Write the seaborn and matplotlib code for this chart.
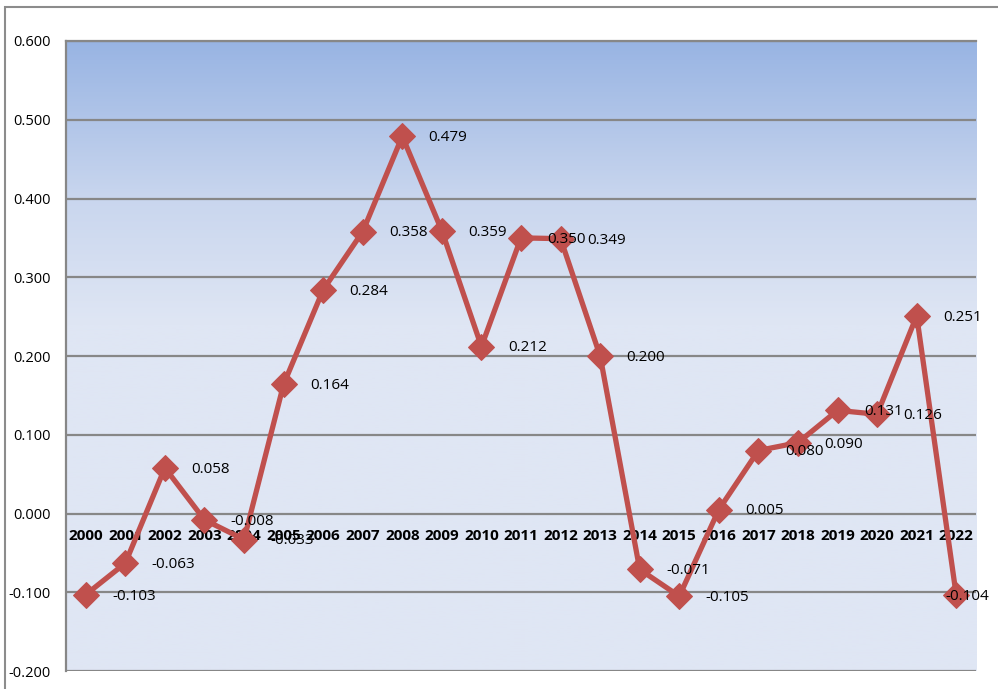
import numpy as np
import pandas as pd
import matplotlib
matplotlib.use("Agg")
import matplotlib.pyplot as plt
import seaborn as sns
from matplotlib.colors import LinearSegmentedColormap

# data
years = [str(y) for y in range(2000, 2023)]
values = [-0.103, -0.063, 0.058, -0.008, -0.033, 0.164, 0.284, 0.358, 0.479, 0.359,
          0.212, 0.350, 0.349, 0.200, -0.071, -0.105, 0.005, 0.080, 0.090, 0.131,
          0.126, 0.251, -0.104]
y_ticks = [-0.2, -0.1, 0.0, 0.1, 0.2, 0.3, 0.4, 0.5, 0.6]

df = pd.DataFrame({"year": years, "value": values})
df["pos"] = range(len(df))

sns.set_style("white")
plt.rcParams["font.family"] = ["Open Sans", "DejaVu Sans"]

fig = plt.figure(figsize=(9.98, 6.89), dpi=100)
ax = fig.add_axes([0.0661, 0.0261, 0.9119, 0.9144])

# outer chart border
fig.patches.append(plt.Rectangle((0.005, -0.05), 1.2, 1.04, transform=fig.transFigure,
                                 fill=False, edgecolor="#8c8c8c", linewidth=1.5))

# gradient plot-area fill
cmap = LinearSegmentedColormap.from_list(
    "bg", [(0.0, "#dfe6f4"), (0.55, "#dfe6f4"), (0.75, "#c9d6ee"), (1.0, "#98b4e3")])
grad = np.linspace(0, 1, 256).reshape(-1, 1)
ax.imshow(grad, aspect="auto", cmap=cmap, origin="lower",
          extent=[-0.5, len(years) - 0.5, -0.2, 0.6], zorder=0)

sns.lineplot(data=df, x="pos", y="value", ax=ax, color="#c0504d", linewidth=3.8,
             marker="D", markersize=13, markeredgecolor="#c0504d", zorder=3)

last = len(df) - 1
for p, v in zip(df["pos"], df["value"]):
    dx = -8 if p == last else 19
    ax.annotate(f"{v:.3f}", (p, v), xytext=(dx, -1), textcoords="offset points",
                ha="left", va="center", fontsize=11, color="black", zorder=4)

# category labels sit along the zero line
for p, yr in zip(df["pos"], df["year"]):
    ax.annotate(yr, (p, 0), xytext=(0, -16), textcoords="offset points",
                ha="center", va="center", fontsize=11, fontweight="bold",
                color="black", zorder=2)

ax.set_xlim(-0.5, len(years) - 0.5)
ax.set_ylim(-0.2, 0.6)
ax.set_yticks(y_ticks)
ax.set_yticklabels([f"{t:.3f}" for t in y_ticks], fontsize=10.5, color="black")
ax.set_xticks([])
ax.tick_params(axis="y", length=0, pad=11)
ax.set_xlabel("")
ax.set_ylabel("")
ax.grid(axis="y", color="#878787", linewidth=1.6, zorder=1)
ax.set_axisbelow(False)
for s in ["left", "top"]:
    ax.spines[s].set_color("#878787")
    ax.spines[s].set_linewidth(1.6)
for s in ["right", "bottom"]:
    ax.spines[s].set_visible(False)

fig.savefig("out.png", dpi=100)
